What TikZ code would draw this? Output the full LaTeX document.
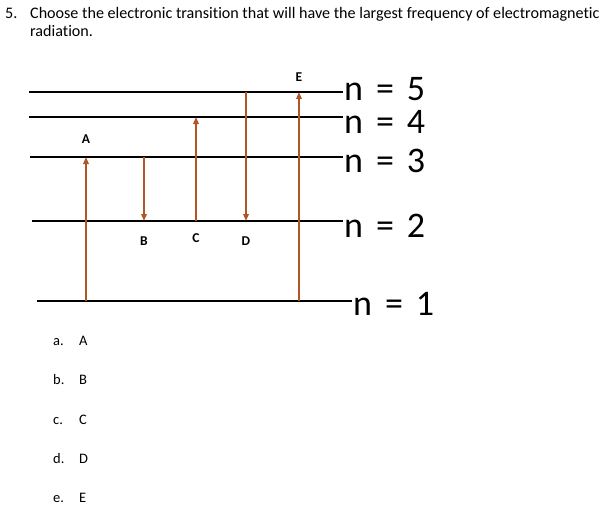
\documentclass[tikz,border=0pt]{standalone}
\usepackage{fontspec}
\setmainfont{Carlito}[Ligatures=NoCommon]
\usetikzlibrary{arrows.meta}
\definecolor{jumpbrown}{RGB}{178,86,38}

\begin{document}
\begin{tikzpicture}[x=1pt, y=-1pt,
    level/.style={line width=1.4pt},
    jump/.style={draw=jumpbrown, line width=1.7pt, -{Triangle[length=7pt, width=5.5pt]}},
    lvllabel/.style={anchor=base west, inner sep=0pt, font=\fontsize{36}{36}\selectfont},
    letter/.style={inner sep=0pt, font=\bfseries\fontsize{13.5}{13.5}\selectfont},
    answer/.style={anchor=base west, inner sep=0pt, font=\fontsize{14.5}{14.5}\selectfont},
    question/.style={anchor=base west, inner sep=0pt, font=\fontsize{16.1}{16.1}\selectfont}]
    \useasboundingbox (0,0) rectangle (604,508);

    \node[question] (num) at (5,19) {5.};
    \node[question] (q1) at (30,19) {Choose the electronic transition that will have the largest frequency of electromagnetic};
    \node[question] (q2) at (30,37) {radiation.};

    \coordinate (L5a) at (29,92);
    \coordinate (L5b) at (343,92);
    \coordinate (L4a) at (29,117);
    \coordinate (L4b) at (343,117);
    \coordinate (L3a) at (30,157);
    \coordinate (L3b) at (343,157);
    \coordinate (L2a) at (32,221);
    \coordinate (L2b) at (343,221);
    \coordinate (L1a) at (37,301);
    \coordinate (L1b) at (352,301);

    \draw[level] (L5a) -- (L5b);
    \draw[level] (L4a) -- (L4b);
    \draw[level] (L3a) -- (L3b);
    \draw[level] (L2a) -- (L2b);
    \draw[level] (L1a) -- (L1b);

    \node[lvllabel] (n5) at (344,100) {n\hspace{0.36em}=\hspace{0.36em}5};
    \node[lvllabel] (n4) at (344,133) {n\hspace{0.36em}=\hspace{0.36em}4};
    \node[lvllabel] (n3) at (344,172) {n\hspace{0.36em}=\hspace{0.36em}3};
    \node[lvllabel] (n2) at (344,237) {n\hspace{0.36em}=\hspace{0.36em}2};
    \node[lvllabel] (n1) at (353,315) {n\hspace{0.36em}=\hspace{0.36em}1};

    \coordinate (A1) at (86,301);
    \coordinate (A3) at (86,157);
    \coordinate (B3) at (144,157);
    \coordinate (B2) at (144,221);
    \coordinate (C2) at (196,221);
    \coordinate (C4) at (196,117);
    \coordinate (D5) at (246,92);
    \coordinate (D2) at (246,221);
    \coordinate (E1) at (299,301);
    \coordinate (E5) at (299,92);

    \draw[jump] (A1) -- (A3);
    \draw[jump] (B3) -- (B2);
    \draw[jump] (C2) -- (C4);
    \draw[jump] (D5) -- (D2);
    \draw[jump] (E1) -- (E5);

    \node[letter] (A) at (86,139) {A};
    \node[letter] (B) at (144,241) {B};
    \node[letter] (C) at (196,238) {C};
    \node[letter] (D) at (246,241) {D};
    \node[letter] (E) at (299,77) {E};

    \node[answer] (a) at (53,345) {a.};
    \node[answer] (aA) at (79,345) {A};
    \node[answer] (b) at (53,384) {b.};
    \node[answer] (bB) at (79,384) {B};
    \node[answer] (c) at (53,424) {c.};
    \node[answer] (cC) at (79,424) {C};
    \node[answer] (d) at (53,463) {d.};
    \node[answer] (dD) at (79,463) {D};
    \node[answer] (e) at (53,502) {e.};
    \node[answer] (eE) at (79,502) {E};
\end{tikzpicture}
\end{document}
